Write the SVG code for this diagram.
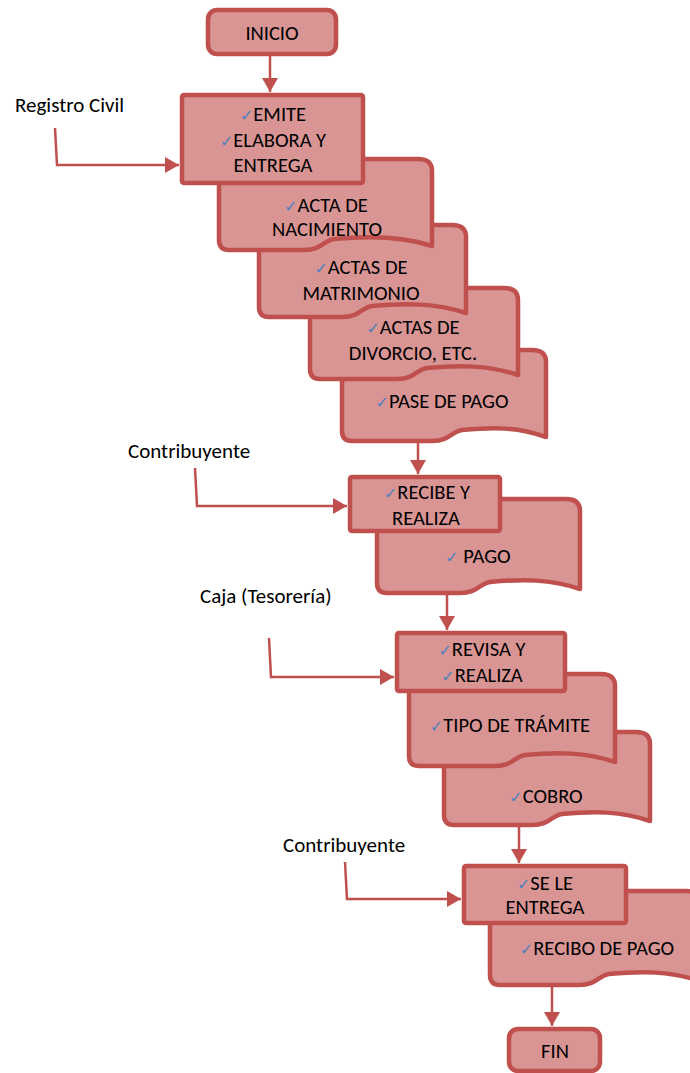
<svg xmlns="http://www.w3.org/2000/svg" width="690" height="1073" viewBox="0 0 690 1073">
  <style>
    .term { fill: #d99594; stroke: #c0504d; stroke-width: 4.5; }
    .proc { fill: #d99594; stroke: #c0504d; stroke-width: 4.5; }
    .doc { fill: #d99594; stroke: #c0504d; stroke-width: 4.5; stroke-linejoin: round; }
    .t { font-family: Carlito, "Liberation Sans", Arial, sans-serif; font-size: 20.5px; fill: #000; text-anchor: middle; }
    .lbl { font-family: Carlito, "Liberation Sans", Arial, sans-serif; font-size: 21px; fill: #000; }
    .ck { font-family: "DejaVu Sans", sans-serif; font-size: 16px; fill: #4f81bd; }
    .con { fill: none; stroke: #c0504d; stroke-width: 2.5; marker-end: url(#ah); }
  </style>
  <defs>
    <marker id="ah" markerUnits="userSpaceOnUse" markerWidth="16" markerHeight="16" refX="14" refY="8" orient="auto">
      <path d="M0,0 L14,8 L0,16 Z" fill="#c0504d"/>
    </marker>
  </defs>

  <rect width="690" height="1073" fill="#ffffff"/>

  <!-- start -->
  <g id="inicio">
    <rect class="term" x="208" y="10" width="128" height="44" rx="9"/>
    <text class="t" x="272" y="40">INICIO</text>
  </g>

  <!-- Registro Civil block: stacked documents, back to front -->
  <g id="doc-pase-pago">
    <path class="doc" d="M342,350 H532 Q546,350 546,362 V437 C516,427 495,427 462,430 C452,431 450,441 432,441 H352 Q342,441 342,431 Z"/>
    <text class="t" x="442" y="408"><tspan class="ck">✓</tspan>PASE DE PAGO</text>
  </g>
  <g id="doc-divorcio">
    <path class="doc" d="M310,288 H504 Q518,288 518,300 V375 C488,365 460,365 427,368 C417,369 415,379 397,379 H320 Q310,379 310,369 Z"/>
    <text class="t" x="413" y="334"><tspan class="ck">✓</tspan>ACTAS DE</text>
    <text class="t" x="413" y="360">DIVORCIO, ETC.</text>
  </g>
  <g id="doc-matrimonio">
    <path class="doc" d="M259,225 H452 Q466,225 466,237 V313 C436,303 405,303 372,306 C362,307 360,317 342,317 H269 Q259,317 259,307 Z"/>
    <text class="t" x="361" y="274"><tspan class="ck">✓</tspan>ACTAS DE</text>
    <text class="t" x="361" y="300">MATRIMONIO</text>
  </g>
  <g id="doc-nacimiento">
    <path class="doc" d="M219,159 H418 Q432,159 432,171 V246 C402,236 367,236 334,239 C324,240 322,250 304,250 H229 Q219,250 219,240 Z"/>
    <text class="t" x="326" y="212"><tspan class="ck">✓</tspan>ACTA DE</text>
    <text class="t" x="327" y="236">NACIMIENTO</text>
  </g>
  <g id="emite">
    <rect class="proc" x="182" y="95" width="181" height="88" rx="2"/>
    <text class="t" x="273" y="121"><tspan class="ck">✓</tspan>EMITE</text>
    <text class="t" x="273" y="147"><tspan class="ck">✓</tspan>ELABORA Y</text>
    <text class="t" x="273" y="172">ENTREGA</text>
  </g>

  <!-- Contribuyente pays -->
  <g id="doc-pago">
    <path class="doc" d="M377,499 H566 Q580,499 580,511 V589 C550,579 523,579 490,582 C480,583 478,593 460,593 H387 Q377,593 377,583 Z"/>
    <text class="t" x="478" y="563"><tspan class="ck">✓</tspan> PAGO</text>
  </g>
  <g id="recibe">
    <rect class="proc" x="350" y="477" width="150" height="54" rx="2"/>
    <text class="t" x="427" y="499"><tspan class="ck">✓</tspan>RECIBE Y</text>
    <text class="t" x="426" y="525">REALIZA</text>
  </g>

  <!-- Caja (Tesoreria) -->
  <g id="doc-cobro">
    <path class="doc" d="M444,732 H636 Q650,732 650,744 V821 C620,811 595,811 562,814 C552,815 550,825 532,825 H454 Q444,825 444,815 Z"/>
    <text class="t" x="546" y="803"><tspan class="ck">✓</tspan>COBRO</text>
  </g>
  <g id="doc-tramite">
    <path class="doc" d="M409,674 H601 Q615,674 615,686 V762 C585,752 558,752 525,755 C515,756 513,766 495,766 H419 Q409,766 409,756 Z"/>
    <text class="t" x="510" y="732"><tspan class="ck">✓</tspan>TIPO DE TRÁMITE</text>
  </g>
  <g id="revisa">
    <rect class="proc" x="397" y="633" width="168" height="58" rx="2"/>
    <text class="t" x="482" y="656"><tspan class="ck">✓</tspan>REVISA Y</text>
    <text class="t" x="482" y="682"><tspan class="ck">✓</tspan>REALIZA</text>
  </g>

  <!-- receipt handed over -->
  <g id="doc-recibo">
    <path class="doc" d="M490,891 H686 Q700,891 700,903 V981 C670,971 642,971 609,974 C599,975 597,985 579,985 H500 Q490,985 490,975 Z"/>
    <text class="t" x="597" y="955"><tspan class="ck">✓</tspan>RECIBO DE PAGO</text>
  </g>
  <g id="entrega">
    <rect class="proc" x="464" y="866" width="162" height="57" rx="2"/>
    <text class="t" x="545" y="890"><tspan class="ck">✓</tspan>SE LE</text>
    <text class="t" x="545" y="914">ENTREGA</text>
  </g>

  <!-- end -->
  <g id="fin">
    <rect class="term" x="509" y="1029" width="91" height="42" rx="9"/>
    <text class="t" x="555" y="1058">FIN</text>
  </g>

  <!-- actor labels -->
  <g id="labels">
    <text class="lbl" x="15" y="112">Registro Civil</text>
    <text class="lbl" x="128" y="458">Contribuyente</text>
    <text class="lbl" x="200" y="603">Caja (Tesorería)</text>
    <text class="lbl" x="283" y="852">Contribuyente</text>
  </g>

  <!-- connectors -->
  <g id="connectors">
    <path class="con" d="M270,56 L270,92"/>
    <path class="con" d="M55,128 L57,165 L179,165"/>
    <path class="con" d="M418,443 L418,474"/>
    <path class="con" d="M195,468 L197,506 L347,506"/>
    <path class="con" d="M447,595 L447,630"/>
    <path class="con" d="M269,638 L271,677 L394,677"/>
    <path class="con" d="M519,827 L519,863"/>
    <path class="con" d="M345,862 L347,899 L461,899"/>
    <path class="con" d="M552,987 L552,1026"/>
  </g>
</svg>
